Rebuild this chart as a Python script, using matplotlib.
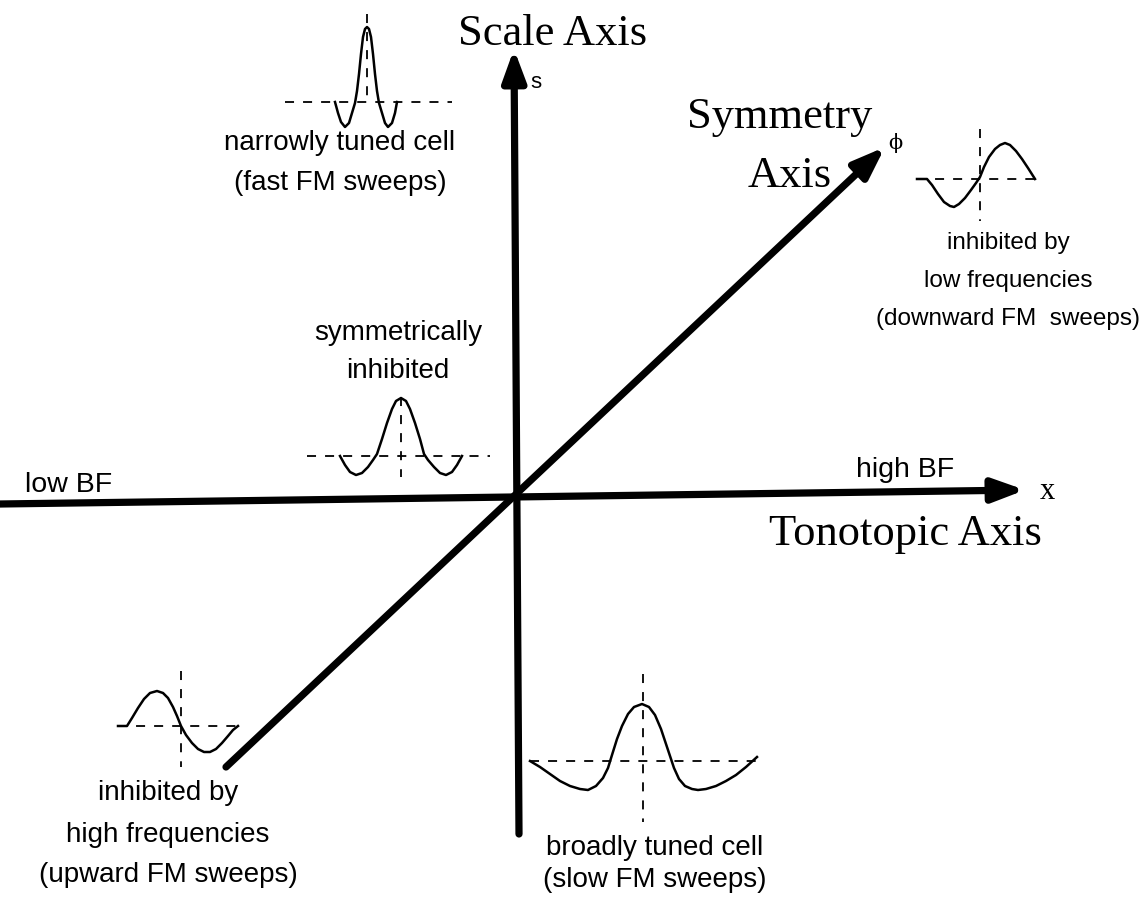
import matplotlib
matplotlib.use("Agg")
import matplotlib.pyplot as plt

# ---------------- data (pixel space) ----------------
# main axes: (start, tip)
tonotopic_axis = [(0, 505), (1025, 491)]
scale_axis = [(519, 835), (514, 50)]
symmetry_axis = [(226, 768), (885, 148)]

# narrowly tuned cell
narrow_x = [335, 338, 341, 345, 349, 352, 355, 357, 359, 361, 363, 365, 367,
            369, 371, 373, 375, 377, 379, 382, 385, 388, 392, 395, 397]
narrow_y = [103, 114, 123, 128, 124, 114, 104, 92, 75, 55, 38, 30, 28,
            30, 38, 55, 75, 92, 104, 114, 124, 128, 124, 114, 103]

# symmetrically inhibited
sym_x = [340, 345, 350, 356, 362, 368, 373, 377, 382, 387, 392, 396, 401,
         406, 410, 415, 420, 424, 428, 434, 440, 446, 452, 457, 462]
sym_y = [457, 466, 473, 476, 474, 468, 461, 455, 440, 424, 410, 402, 399,
         402, 410, 424, 440, 455, 461, 468, 474, 476, 473, 466, 457]

# inhibited by low frequencies
low_x = [917, 927, 932, 938, 944, 950, 954, 959, 965, 971, 976, 980, 984,
         989, 995, 1000, 1005, 1010, 1016, 1022, 1028, 1035]
low_y = [180, 180, 186, 195, 203, 207, 208, 205, 199, 191, 184, 178, 168,
         158, 150, 146, 144, 146, 152, 160, 169, 180]

# inhibited by high frequencies
high_x = [118, 127, 132, 138, 144, 150, 157, 163, 168, 173, 177, 181, 186,
          192, 198, 204, 210, 216, 222, 228, 233, 238]
high_y = [727, 727, 719, 709, 700, 694, 692, 694, 699, 708, 717, 727, 736,
          744, 750, 753, 753, 750, 744, 737, 731, 727]

# broadly tuned cell
broad_x = [530, 540, 550, 560, 570, 580, 588, 596, 603, 608, 612, 617, 622,
           628, 634, 642, 649, 655, 661, 666, 670, 674, 679, 685, 692, 698,
           706, 716, 726, 736, 746, 757]
broad_y = [762, 768, 775, 782, 787, 790, 791, 787, 779, 769, 756, 740, 727,
           715, 708, 705, 708, 716, 730, 745, 757, 769, 780, 787, 790, 791,
           790, 787, 782, 776, 768, 758]

# dashed guides: (x0, x1, y) horizontal and (x, y0, y1) vertical
h_guides = [(285, 452, 103), (307, 490, 457), (917, 1040, 180),
            (118, 240, 727), (530, 757, 762)]
v_guides = [(367, 15, 103), (401, 398, 478), (980, 130, 222),
            (181, 672, 768), (643, 675, 823)]

curves = [(narrow_x, narrow_y), (sym_x, sym_y), (low_x, low_y),
          (high_x, high_y), (broad_x, broad_y)]

# ---------------- drawing ----------------
W, H = 1146, 903
fig = plt.figure(figsize=(W / 100, H / 100), dpi=100)
ax = fig.add_axes([0, 0, 1, 1])
ax.set_xlim(0, W)
ax.set_ylim(H, 0)
ax.axis("off")

for start, tip in (tonotopic_axis, scale_axis, symmetry_axis):
    ax.annotate("", xy=tip, xytext=start,
                arrowprops=dict(arrowstyle="-|>,head_length=19,head_width=7",
                                mutation_scale=1, lw=5.2, color="black",
                                shrinkA=0, shrinkB=0))

for x0, x1, y in h_guides:
    ax.plot([x0, x1], [y, y], color="black", lw=1.3, dashes=(5, 5))
for x, y0, y1 in v_guides:
    ax.plot([x, x], [y0, y1], color="black", lw=1.3, dashes=(5, 5))

for cx, cy in curves:
    ax.plot(cx, cy, color="black", lw=1.8, solid_joinstyle="round")

serif = "Liberation Serif"
sans = "Liberation Sans"
ax.text(553, 45, "Scale Axis", family=serif, fontsize=32, ha="center", va="baseline")
ax.text(536, 82, "s", family=sans, fontsize=16, ha="center", va="center")
ax.text(780, 128, "Symmetry", family=serif, fontsize=32, ha="center", va="baseline")
ax.text(790, 187, "Axis", family=serif, fontsize=32, ha="center", va="baseline")
ax.text(895, 143, "\u03d5", family="DejaVu Serif", fontsize=15, ha="center", va="center")
ax.text(905, 545, "Tonotopic Axis", family=serif, fontsize=32, ha="center", va="baseline")
ax.text(1047, 492, "x", family=serif, fontsize=22, ha="center", va="center")

ax.text(905, 470, "high BF", family=sans, fontsize=20.5, ha="center", va="center")
ax.text(25, 485, "low BF", family=sans, fontsize=20.5, ha="left", va="center")

def block(x, ys, lines, size=20):
    for y, s in zip(ys, lines):
        ax.text(x, y, s, family=sans, fontsize=size, ha="center", va="center")

block(340, [143, 183], ["narrowly tuned cell", "(fast FM sweeps)"])
block(398, [333, 371], ["symmetrically", "inhibited"])
block(1008, [243, 281, 319], ["inhibited by", "low frequencies", "(downward FM  sweeps)"], size=17.5)
block(168, [793, 835, 875], ["inhibited by", "high frequencies", "(upward FM sweeps)"])
block(655, [848, 880], ["broadly tuned cell", "(slow FM sweeps)"])

fig.savefig("out.png", dpi=100)
